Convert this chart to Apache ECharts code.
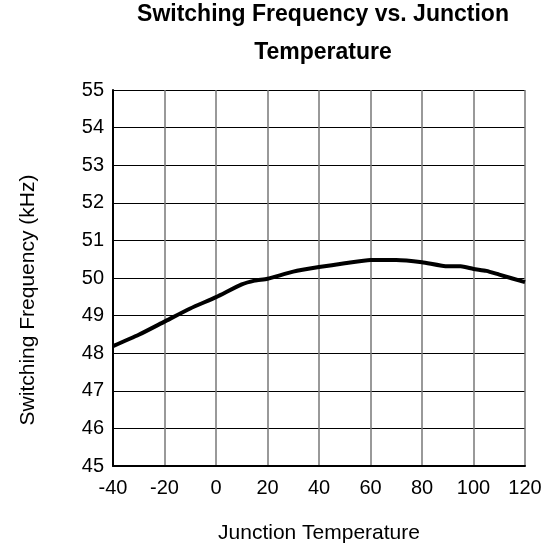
<!DOCTYPE html>
<html>
<head>
<meta charset="utf-8">
<script src="https://cdn.jsdelivr.net/npm/echarts@6/dist/echarts.min.js"></script>
<style>
  html, body { margin: 0; padding: 0; background: #fff; }
  #chart { width: 555px; height: 550px; }
</style>
</head>
<body>
<div id="chart"></div>
<script>
// Junction temperature (°C) and measured switching frequency (kHz)
const temperatures = [-40, -30, -20, -10, 0, 10, 15, 20, 30, 40, 50, 60, 70, 80, 90, 95, 100, 105, 110, 120];
const frequencies  = [48.19, 48.49, 48.84, 49.19, 49.49, 49.83, 49.93, 49.98, 50.17, 50.29, 50.39, 50.48, 50.48, 50.42, 50.31, 50.31, 50.24, 50.19, 50.09, 49.89];

const xTicks = [-40, -20, 0, 20, 40, 60, 80, 100, 120];
const yTicks = [45, 46, 47, 48, 49, 50, 51, 52, 53, 54, 55];

const titleText = 'Switching Frequency vs. Junction\nTemperature';
const xName = 'Junction Temperature';
const yName = 'Switching Frequency (kHz)';

const FONT = '"Liberation Sans", Arial, sans-serif';

const chart = echarts.init(document.getElementById('chart'), null, { renderer: 'canvas' });

const points = temperatures.map((t, i) => [t, frequencies[i]]);

chart.setOption({
  animation: false,
  backgroundColor: '#ffffff',
  title: {
    text: titleText,
    left: 318,
    textAlign: 'center',
    top: -9,
    textStyle: {
      fontFamily: FONT,
      fontWeight: 'bold',
      fontSize: 23,
      lineHeight: 38,
      color: '#000'
    }
  },
  grid: { left: 113, right: 30, top: 90, bottom: 84 },
  xAxis: {
    type: 'value',
    min: xTicks[0],
    max: xTicks[xTicks.length - 1],
    interval: xTicks[1] - xTicks[0],
    name: xName,
    nameLocation: 'middle',
    nameGap: 57,
    nameTextStyle: { fontFamily: FONT, fontSize: 21, color: '#000' },
    axisLine: { show: true, onZero: false, lineStyle: { color: '#000', width: 2 } },
    axisTick: { show: false },
    axisLabel: { fontFamily: FONT, fontSize: 20, color: '#000', margin: 12 },
    splitLine: { show: true, lineStyle: { color: '#777', width: 1.5 } }
  },
  yAxis: {
    type: 'value',
    min: yTicks[0],
    max: yTicks[yTicks.length - 1],
    interval: 1,
    axisLine: { show: true, onZero: false, lineStyle: { color: '#000', width: 2 } },
    axisTick: { show: false },
    axisLabel: { fontFamily: FONT, fontSize: 20, color: '#000', margin: 9 },
    splitLine: { show: true, lineStyle: { color: '#000', width: 1 } }
  },
  graphic: [
    {
      type: 'text',
      x: 28,
      y: 300,
      rotation: Math.PI / 2,
      style: {
        text: yName,
        fontFamily: FONT,
        fontSize: 21,
        fill: '#000',
        textAlign: 'center',
        textVerticalAlign: 'middle'
      }
    }
  ],
  series: [
    {
      type: 'line',
      data: points,
      showSymbol: false,
      smooth: 0.2,
      lineStyle: { color: '#000', width: 4 },
      z: 5
    }
  ]
});
</script>
</body>
</html>
